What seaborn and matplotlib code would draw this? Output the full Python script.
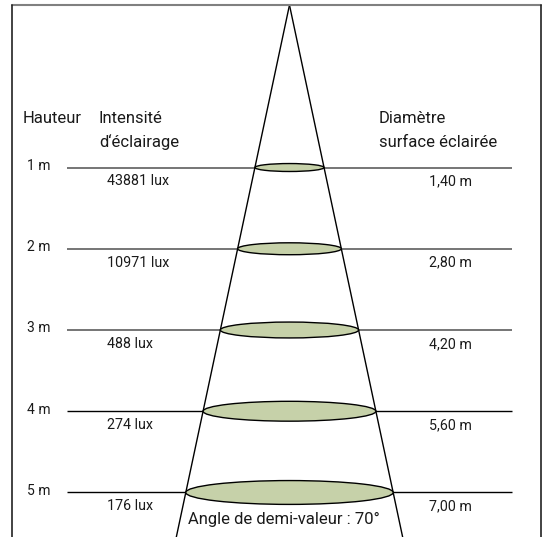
import numpy as np
import pandas as pd
import matplotlib
matplotlib.use("Agg")
import matplotlib.pyplot as plt
from matplotlib.patches import Ellipse
from matplotlib.lines import Line2D
import seaborn as sns

# data
heights = [1, 2, 3, 4, 5]                          # mounting height in m
height_labels = ["1 m", "2 m", "3 m", "4 m", "5 m"]
lux = [43881, 10971, 488, 274, 176]                # illuminance at each height
diameters = [1.40, 2.80, 4.20, 5.60, 7.00]         # diameter of the lit surface in m
half_value_angle = 70

# schematic drawing settings (cone is not drawn to scale)
apex_level = -1          # the lamp sits one row spacing above the 0 m level
spread = 0.4254          # drawn cone width per row
ellipse_ratio = 0.115    # ellipse height / width

sns.set_theme(style="white")
plt.rcParams["font.family"] = ["Roboto", "DejaVu Sans"]

fig = plt.figure(figsize=(5.48, 5.37), dpi=100)
ax = fig.add_axes([0, 0, 1, 1])
ax.set_xlim(-3.563, 3.182)
ax.set_ylim(5.548, -1.062)
ax.axis("off")

# cone edges
bottom = 5.7
cone = pd.DataFrame({
    "x": [0, -spread / 2 * (bottom - apex_level), 0, spread / 2 * (bottom - apex_level)],
    "y": [apex_level, bottom, apex_level, bottom],
    "side": ["left", "left", "right", "right"],
})
sns.lineplot(data=cone, x="x", y="y", units="side", estimator=None, sort=False,
             color="black", linewidth=1, ax=ax, legend=False)

text_color = "#1a1a1a"
for i, h in enumerate(heights):
    if i < 3:
        line_color, lw = "#6a6a6a", 1.3
    else:
        line_color, lw = "black", 1.0
    ax.hlines(h, -2.738, 2.738, color=line_color, linewidth=lw, zorder=1)
    w = spread * (h - apex_level)
    ax.add_patch(Ellipse((0, h), w, w * ellipse_ratio, facecolor="#c6d1a9",
                         edgecolor="black", linewidth=1, zorder=3))
    ax.text(-3.23, h - 0.02, height_labels[i], ha="left", va="center",
            fontsize=10, color=text_color)
    ax.text(-2.246, h + 0.17, f"{lux[i]} lux", ha="left", va="center",
            fontsize=10.3, color=text_color)
    ax.text(2.25, h + 0.17, f"{diameters[i]:.2f} m".replace(".", ","),
            ha="right", va="center", fontsize=10.3, color=text_color)

# column headers
hdr = 12
ax.text(-3.28, 0.391, "Hauteur", ha="left", va="center", fontsize=hdr, color=text_color)
ax.text(-2.345, 0.391, "Intensité", ha="left", va="center", fontsize=hdr, color=text_color)
ax.text(-2.345, 0.686, "d‘éclairage", ha="left", va="center", fontsize=hdr, color=text_color)
ax.text(1.10, 0.391, "Diamètre", ha="left", va="center", fontsize=hdr, color=text_color)
ax.text(1.10, 0.686, "surface éclairée", ha="left", va="center", fontsize=hdr, color=text_color)

ax.text(-0.074, 5.338, f"Angle de demi-valeur : {half_value_angle}°", ha="center",
        va="center", fontsize=12, color=text_color)

# frame (open at the bottom)
fl, fr, ft = 12 / 548, 541 / 548, 1 - 5 / 537
fig.add_artist(Line2D([fl, fr], [ft, ft], color="#808080", linewidth=1.5))
fig.add_artist(Line2D([fl, fl], [0, ft], color="#222222", linewidth=1.2))
fig.add_artist(Line2D([fr, fr], [0, ft], color="#222222", linewidth=1.2))

fig.savefig("out.png", dpi=100, facecolor="white")
